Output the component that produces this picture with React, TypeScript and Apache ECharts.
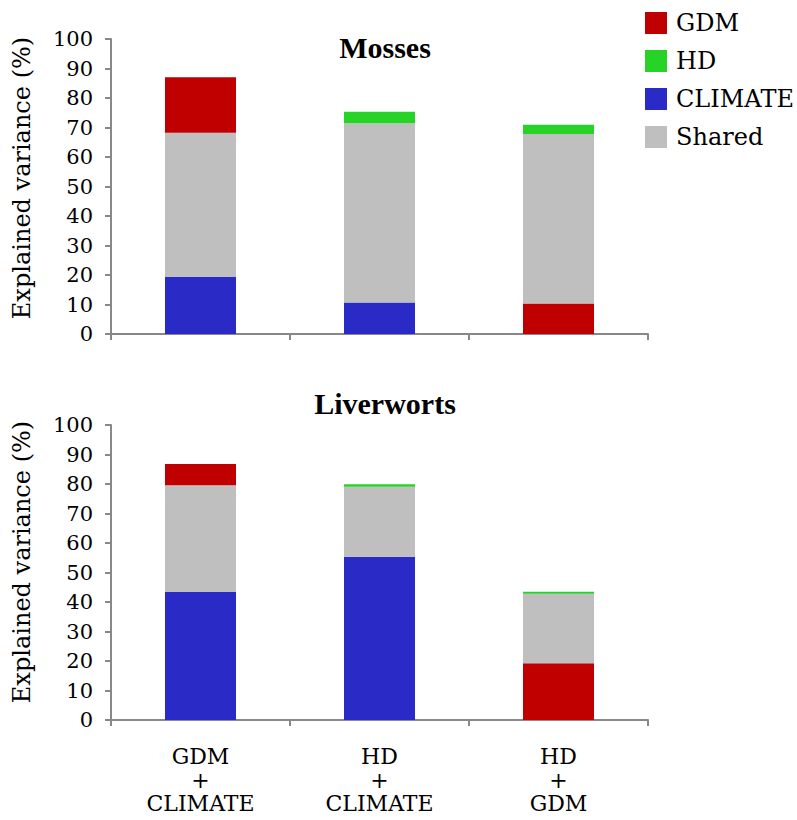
import React, { useEffect, useRef } from 'react';
import * as echarts from 'echarts';

const categories = ['GDM\n+\nCLIMATE', 'HD\n+\nCLIMATE', 'HD\n+\nGDM'];
const legendNames = ['GDM', 'HD', 'CLIMATE', 'Shared'];
const panelTitles = ['Mosses', 'Liverworts'];
const yAxisTitle = 'Explained variance (%)';

// Mosses (stack order: bottom unique, shared, top unique)
const mossesClimate = [19.3, 10.7, null];
const mossesGdmBottom = [null, null, 10.3];
const mossesShared = [48.9, 60.7, 57.5];
const mossesGdmTop = [18.8, null, null];
const mossesHd = [null, 3.9, 3.1];

// Liverworts
const liverClimate = [43.4, 55.3, null];
const liverGdmBottom = [null, null, 19.2];
const liverShared = [36.2, 23.8, 23.6];
const liverGdmTop = [7.2, null, null];
const liverHd = [null, 0.8, 0.7];

const COLORS: Record<string, string> = {
  GDM: '#C00000',
  HD: '#26D326',
  CLIMATE: '#2A2AC6',
  Shared: '#BFBFBF',
};

const FONT_REG = 'DejaVu Serif, serif';
const FONT_BOLD = 'Liberation Serif, DejaVu Serif, serif';
const AXIS_COLOR = '#888888';

export default function App() {
  const ref = useRef<HTMLDivElement>(null);

  useEffect(() => {
    if (!ref.current) return;
    const chart = echarts.init(ref.current, undefined, { renderer: 'svg' });

    const mkSeries = (name: string, data: (number | null)[], idx: number) => ({
      type: 'bar',
      name,
      data,
      stack: 'panel' + idx,
      xAxisIndex: idx,
      yAxisIndex: idx,
      barWidth: 71,
      itemStyle: { color: COLORS[name] },
      emphasis: { disabled: true },
    });

    const grids = [
      { left: 111, top: 39, width: 537, height: 295 },
      { left: 111, top: 425, width: 537, height: 295 },
    ];

    const xAxes = [0, 1].map((i) => ({
      type: 'category',
      gridIndex: i,
      data: categories,
      boundaryGap: true,
      axisLine: { show: true, lineStyle: { color: AXIS_COLOR, width: 2 } },
      axisTick: { show: true, interval: 0, length: 6, lineStyle: { color: AXIS_COLOR, width: 2 } },
      axisLabel: {
        show: i === 1,
        interval: 0,
        margin: 25,
        color: '#000',
        fontFamily: FONT_REG,
        fontSize: 22,
        lineHeight: 23.5,
      },
      splitLine: { show: false },
    }));

    const yAxes = [0, 1].map((i) => ({
      type: 'value',
      gridIndex: i,
      min: 0,
      max: 100,
      interval: 10,
      axisLine: { show: true, lineStyle: { color: AXIS_COLOR, width: 2 } },
      axisTick: { show: true, length: 6, lineStyle: { color: AXIS_COLOR, width: 2 } },
      axisLabel: {
        color: '#000',
        fontFamily: FONT_REG,
        fontSize: 21,
        margin: 18,
      },
      splitLine: { show: false },
    }));

    const yTitleStyle = {
      text: yAxisTitle,
      fontFamily: FONT_REG,
      fontSize: 24,
      fill: '#000',
      textAlign: 'center',
      textVerticalAlign: 'middle',
    };

    const option = {
      animation: false,
      backgroundColor: '#fff',
      textStyle: { fontFamily: FONT_REG },
      title: [
        {
          text: panelTitles[0],
          left: 380,
          top: 27,
          textAlign: 'center',
          textStyle: { fontFamily: FONT_BOLD, fontSize: 30, fontWeight: 'bold', color: '#000' },
        },
        {
          text: panelTitles[1],
          left: 380,
          top: 383,
          textAlign: 'center',
          textStyle: { fontFamily: FONT_BOLD, fontSize: 30, fontWeight: 'bold', color: '#000' },
        },
      ],
      legend: {
        data: legendNames,
        orient: 'vertical',
        left: 640,
        top: 6,
        itemWidth: 22,
        itemHeight: 22,
        itemGap: 14,
        icon: 'rect',
        selectedMode: false,
        textStyle: {
          fontFamily: FONT_REG,
          fontSize: 24,
          color: '#000',
          padding: [0, 0, 0, 4],
        },
      },
      grid: grids,
      xAxis: xAxes,
      yAxis: yAxes,
      graphic: [
        { type: 'text', x: 22, y: 178, rotation: Math.PI / 2, style: { ...yTitleStyle } },
        { type: 'text', x: 22, y: 562, rotation: Math.PI / 2, style: { ...yTitleStyle } },
      ],
      series: [
        mkSeries('CLIMATE', mossesClimate, 0),
        mkSeries('GDM', mossesGdmBottom, 0),
        mkSeries('Shared', mossesShared, 0),
        mkSeries('GDM', mossesGdmTop, 0),
        mkSeries('HD', mossesHd, 0),
        mkSeries('CLIMATE', liverClimate, 1),
        mkSeries('GDM', liverGdmBottom, 1),
        mkSeries('Shared', liverShared, 1),
        mkSeries('GDM', liverGdmTop, 1),
        mkSeries('HD', liverHd, 1),
      ],
    };

    chart.setOption(option as any);
    return () => {
      chart.dispose();
    };
  }, []);

  return (
    <div
      ref={ref}
      style={{ position: 'fixed', left: 0, top: 0, width: 797, height: 820, background: '#fff' }}
    />
  );
}
